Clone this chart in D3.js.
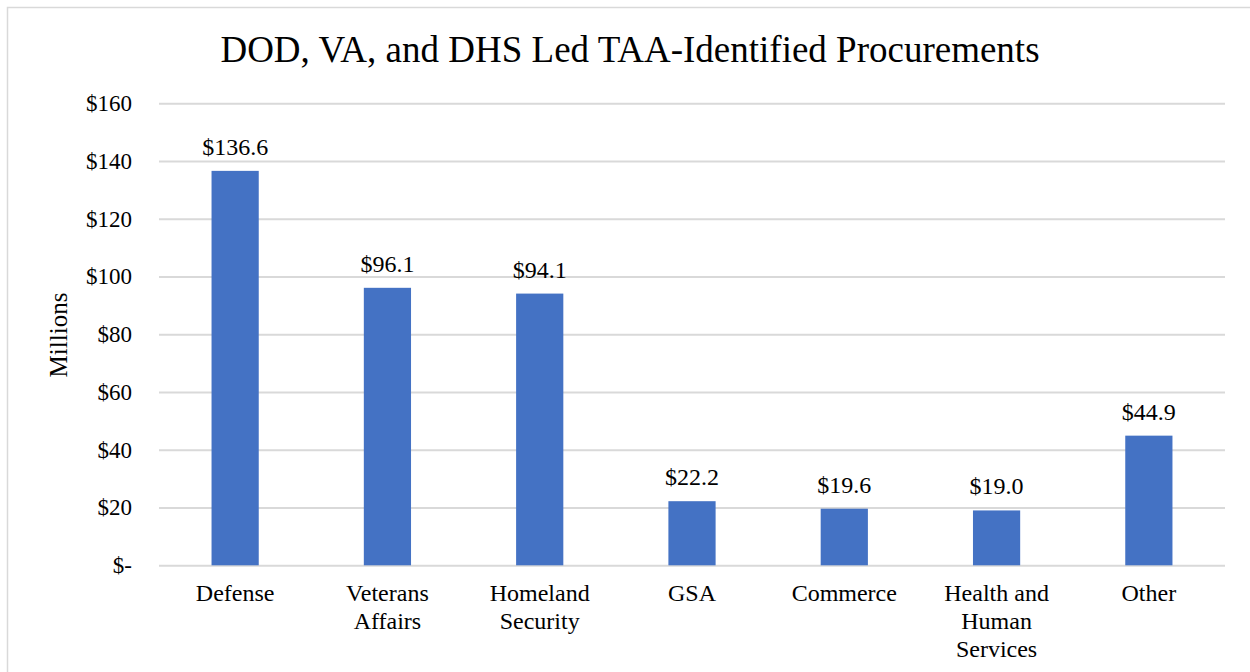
<!DOCTYPE html>
<html>
<head>
<meta charset="utf-8">
<script src="https://cdn.jsdelivr.net/npm/d3@7"></script>
<style>
  html, body { margin: 0; padding: 0; background: #fff; }
  svg { display: block; }
</style>
</head>
<body>
<script>
const categories = [["Defense"], ["Veterans", "Affairs"], ["Homeland", "Security"], ["GSA"], ["Commerce"], ["Health and", "Human", "Services"], ["Other"]];
const values = [136.6, 96.1, 94.1, 22.2, 19.6, 19.0, 44.9];
const valueLabels = ["$136.6", "$96.1", "$94.1", "$22.2", "$19.6", "$19.0", "$44.9"];
const tickValues = [0, 20, 40, 60, 80, 100, 120, 140, 160];
const tickLabels = ["$-", "$20", "$40", "$60", "$80", "$100", "$120", "$140", "$160"];
const title = "DOD, VA, and DHS Led TAA-Identified Procurements";
const yTitle = "Millions";

const FONT = "'Liberation Serif', 'Times New Roman', serif";
const W = 1250, H = 672;
const svg = d3.select("body").append("svg").attr("width", W).attr("height", H)
  .style("font-family", FONT);

svg.append("rect").attr("x", 7.5).attr("y", 7.5).attr("width", W).attr("height", H)
  .attr("fill", "#fff").attr("stroke", "#d9d9d9").attr("stroke-width", 1.5);

const x0 = 159, x1 = 1225, yTop = 103.3, yBot = 565.3;
const idx = categories.map((d, i) => i);
const x = d3.scaleBand().domain(idx).range([x0, x1]).paddingInner(0.69).paddingOuter(0.345);
const y = d3.scaleLinear().domain([0, 160]).range([yBot, yTop]);

// gridlines
const grid = svg.append("g").attr("transform", `translate(${x0},0)`)
  .call(d3.axisLeft(y).tickValues(tickValues).tickSize(-(x1 - x0)).tickFormat(""));
grid.select(".domain").remove();
grid.selectAll("line").attr("stroke", "#d9d9d9").attr("stroke-width", 2);

// y tick labels
const yAxis = svg.append("g").attr("transform", `translate(${x0},0)`)
  .call(d3.axisLeft(y).tickValues(tickValues).tickSize(0).tickPadding(27)
    .tickFormat((d, i) => tickLabels[i]));
yAxis.attr("font-family", null).attr("font-size", null);
yAxis.select(".domain").remove();
yAxis.selectAll("text").style("font-size", "23px").style("font-family", FONT).attr("fill", "#000");

// bars
svg.append("g").selectAll("rect").data(values).join("rect")
  .attr("x", (d, i) => x(i))
  .attr("width", x.bandwidth())
  .attr("y", d => y(d))
  .attr("height", d => y(0) - y(d))
  .attr("fill", "#4472C4");

// value labels
svg.append("g").selectAll("text").data(values).join("text")
  .attr("x", (d, i) => x(i) + x.bandwidth() / 2)
  .attr("y", d => y(d) - 16)
  .attr("text-anchor", "middle")
  .style("font-size", "24px").style("font-family", FONT)
  .text((d, i) => valueLabels[i]);

// category labels
const xl = svg.append("g").selectAll("text").data(categories).join("text")
  .attr("x", (d, i) => x(i) + x.bandwidth() / 2)
  .attr("y", 601)
  .attr("text-anchor", "middle")
  .style("font-size", "24px").style("font-family", FONT);
xl.selectAll("tspan").data(d => d).join("tspan")
  .attr("x", function() { return d3.select(this.parentNode).attr("x"); })
  .attr("dy", (d, i) => i === 0 ? 0 : 28)
  .text(d => d);

// title
svg.append("text").attr("x", 630).attr("y", 62).attr("text-anchor", "middle")
  .style("font-size", "37px").style("font-family", FONT).text(title);

// y axis title
svg.append("text").attr("transform", `translate(67,335) rotate(-90)`)
  .attr("text-anchor", "middle").style("font-size", "25px").style("font-family", FONT).text(yTitle);
</script>
</body>
</html>
